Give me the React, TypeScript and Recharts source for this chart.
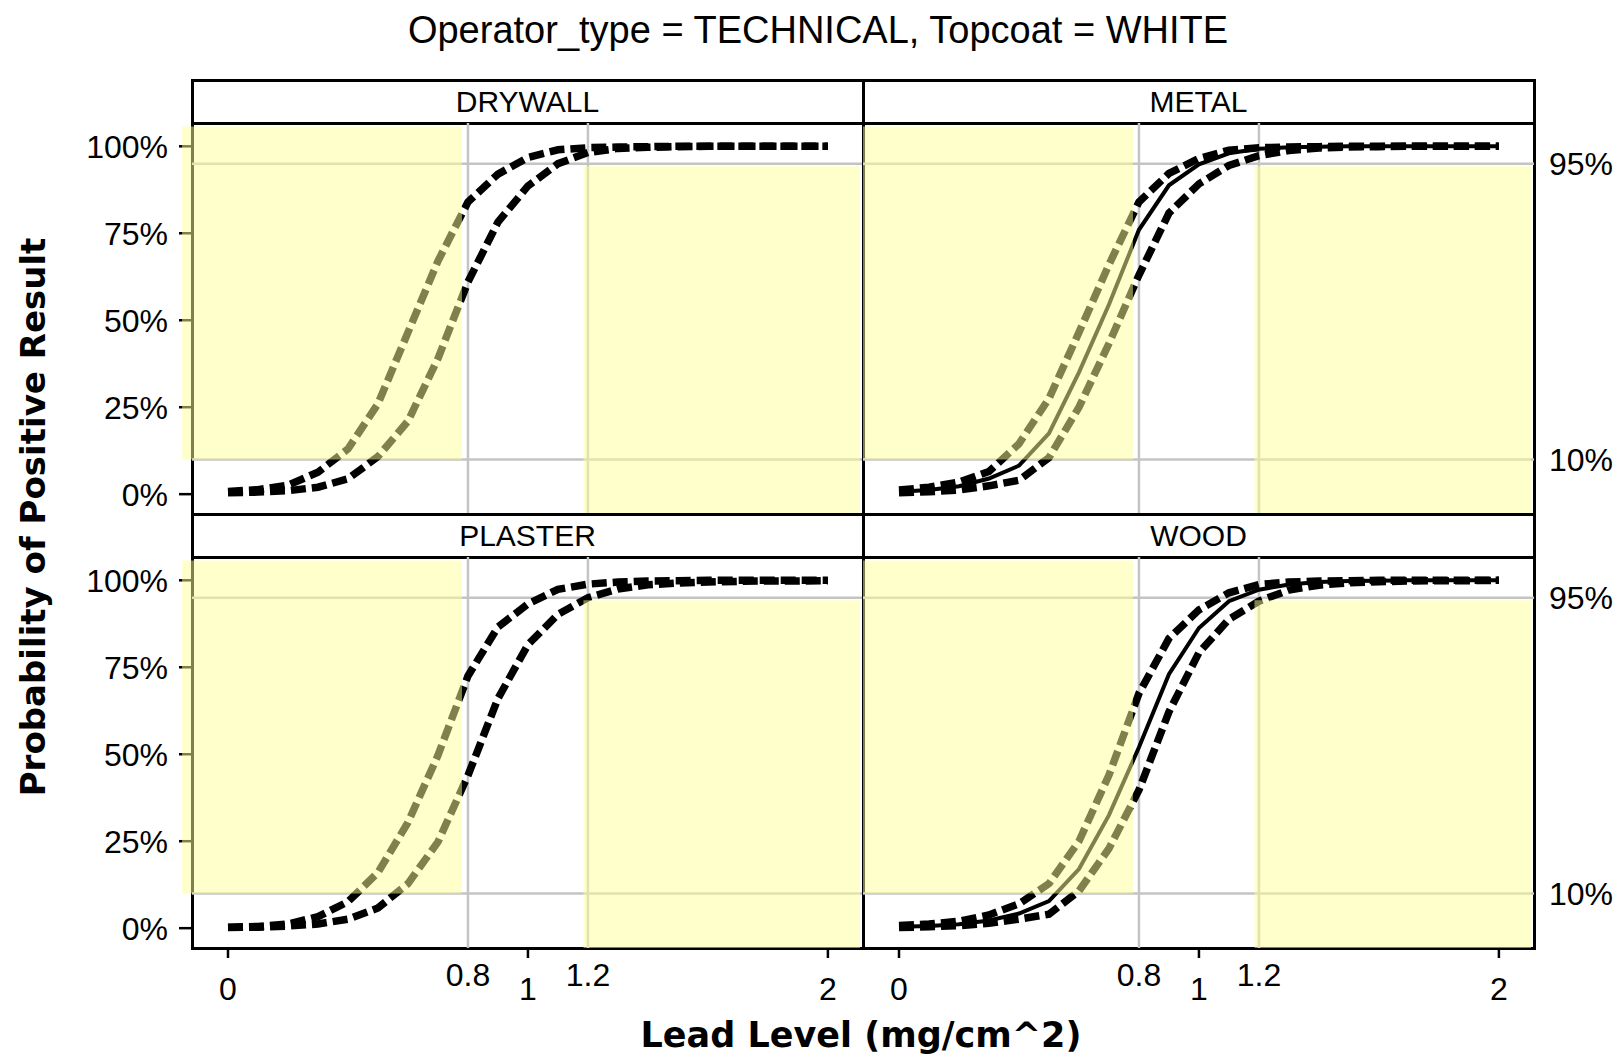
import { Line, LineChart, ReferenceArea, ReferenceLine, XAxis, YAxis } from 'recharts'

// lead level grid (mg/cm^2) shared by every curve
const leadLevels = [0, 0.1, 0.2, 0.3, 0.4, 0.5, 0.6, 0.7, 0.8, 0.9, 1.0, 1.1, 1.2, 1.3, 1.4, 1.5, 1.6, 1.7, 1.8, 1.9, 2.0]

// probability of positive result (%)
const drywallUpper = [0.8, 1.3, 2.6, 6.3, 13, 26, 46.5, 67, 84, 92, 96.8, 99, 99.6, 99.8, 99.9, 100, 100, 100, 100, 100, 100]
const drywallLower = [0.4, 0.6, 1.0, 2.0, 4.4, 10.8, 21, 39, 61, 78.2, 88.6, 95, 98.2, 99.4, 99.7, 99.9, 100, 100, 100, 100, 100]

const metalUpper = [1.2, 2.0, 3.5, 6.5, 14.5, 27.5, 46.5, 66, 84, 92.2, 96.5, 98.9, 99.6, 99.8, 99.9, 100, 100, 100, 100, 100, 100]
const metalFit = [0.7, 1.2, 2.3, 4.5, 8.2, 17.5, 35, 54.5, 76, 88.8, 94.8, 98, 99.3, 99.7, 99.9, 100, 100, 100, 100, 100, 100]
const metalLower = [0.4, 0.7, 1.2, 2.4, 4.0, 10.5, 25, 43.3, 63, 80.8, 89.2, 94.5, 97.3, 98.8, 99.5, 99.8, 99.9, 100, 100, 100, 100]

const plasterUpper = [0.3, 0.5, 1.2, 3.3, 7.6, 16, 30.4, 49.7, 72.5, 86.6, 93.2, 97.4, 98.9, 99.5, 99.8, 99.9, 100, 100, 100, 100, 100]
const plasterLower = [0.2, 0.3, 0.6, 1.2, 2.6, 5.8, 12.8, 24.8, 43.9, 66, 81.5, 90.2, 95, 97.5, 98.7, 99.2, 99.5, 99.7, 99.8, 99.8, 99.9]

const woodUpper = [0.8, 1.2, 2.0, 3.8, 7.0, 12.8, 25, 44, 67.5, 83.3, 91.5, 96.4, 98.8, 99.5, 99.8, 99.9, 100, 100, 100, 100, 100]
const woodFit = [0.4, 0.6, 1.1, 2.2, 4.2, 7.8, 17, 32.5, 52, 73, 86.3, 94, 97.3, 98.8, 99.5, 99.8, 99.9, 100, 100, 100, 100]
const woodLower = [0.2, 0.4, 0.7, 1.4, 2.6, 4.0, 10.7, 22.9, 39.7, 62.2, 79.2, 88.8, 94, 97.2, 98.6, 99.3, 99.6, 99.8, 99.9, 99.9, 100]

const yTicks = [0, 25, 50, 75, 100]
const xTicks = [0, 0.8, 1, 1.2, 2]
const leadThresholds = [0.8, 1.2]
const probThresholds = [10, 95]

const X_MIN = -0.12
const X_MAX = 2.117
const Y_MIN = -5.7
const Y_MAX = 106.7

// layout
const PLOT_W = 671
const PLOT_H = 391
const AXIS_W = 192
const RIGHT_PAD = 88
const XAXIS_H = 80
const HEADER_H = 43
const colLeft = [192, 863]
const headerTop = [80, 514]

const panels = [
  { name: 'DRYWALL', upper: drywallUpper, fit: null, lower: drywallLower },
  { name: 'METAL', upper: metalUpper, fit: metalFit, lower: metalLower },
  { name: 'PLASTER', upper: plasterUpper, fit: null, lower: plasterLower },
  { name: 'WOOD', upper: woodUpper, fit: woodFit, lower: woodLower },
]

function LeadTick(props: any) {
  const { x, y, payload } = props
  const v = payload.value
  const major = Number.isInteger(v)
  return (
    <g>
      {major && <line x1={x} x2={x} y1={y - 10} y2={y} stroke="#000" strokeWidth={2.5} />}
      <text x={x} y={y} dy={major ? 42 : 28} textAnchor="middle" fontSize={32} fill="#000">
        {String(v)}
      </text>
    </g>
  )
}

function Facet({ index }: { index: number }) {
  const p = panels[index]
  const col = index % 2
  const row = Math.floor(index / 2)
  const plotTop = headerTop[row] + HEADER_H
  const data = leadLevels.map((x, i) => ({ x, upper: p.upper[i], fit: p.fit ? p.fit[i] : null, lower: p.lower[i] }))
  const width = col === 0 ? AXIS_W + PLOT_W : PLOT_W + RIGHT_PAD
  const height = row === 1 ? PLOT_H + XAXIS_H : PLOT_H
  const left = col === 0 ? 0 : colLeft[1]
  const frame = { position: 'absolute' as const, left: colLeft[col] - 1.5, width: PLOT_W + 3, border: '3px solid #000', boxSizing: 'border-box' as const }

  return (
    <>
      <div style={{ ...frame, top: headerTop[row] - 1.5, height: HEADER_H + 3, display: 'flex', alignItems: 'center', justifyContent: 'center', fontSize: 30 }}>
        {p.name}
      </div>
      <div style={{ ...frame, top: plotTop - 1.5, height: PLOT_H + 3 }} />
      <div style={{ position: 'absolute', left, top: plotTop }}>
        <LineChart width={width} height={height} data={data} margin={{ top: 0, right: col === 1 ? RIGHT_PAD : 0, bottom: 0, left: 0 }}>
          <XAxis
            type="number"
            dataKey="x"
            domain={[X_MIN, X_MAX]}
            allowDataOverflow
            ticks={xTicks}
            hide={row === 0}
            height={XAXIS_H}
            axisLine={false}
            tickLine={false}
            tickSize={10}
            tickMargin={0}
            tick={<LeadTick />}
            interval={0}
          />
          <YAxis
            type="number"
            domain={[Y_MIN, Y_MAX]}
            allowDataOverflow
            ticks={yTicks}
            hide={col === 1}
            width={AXIS_W}
            axisLine={false}
            tickSize={13}
            tickMargin={11}
            tickLine={{ stroke: '#000', strokeWidth: 2.5 }}
            tick={{ fill: '#000', fontSize: 32 }}
            tickFormatter={(v) => `${v}%`}
            interval={0}
          />
          {leadThresholds.map((t) => (
            <ReferenceLine key={`x${t}`} x={t} stroke="#c4c4c4" strokeWidth={2.5} zIndex={50} />
          ))}
          {probThresholds.map((t) => (
            <ReferenceLine
              key={`y${t}`}
              y={t}
              stroke="#c4c4c4"
              strokeWidth={2.5}
              zIndex={50}
              label={col === 1 ? { value: `${t}%`, position: 'right', offset: 15, fill: '#000', fontSize: 32 } : undefined}
            />
          ))}
          <Line type="linear" dataKey="upper" stroke="#000" strokeWidth={7.5} strokeDasharray="15 6" dot={false} isAnimationActive={false} />
          <Line type="linear" dataKey="lower" stroke="#000" strokeWidth={7.5} strokeDasharray="15 6" dot={false} isAnimationActive={false} />
          {p.fit && <Line type="linear" dataKey="fit" stroke="#000" strokeWidth={4} dot={false} isAnimationActive={false} />}
          <ReferenceArea
            x1={col === 0 ? -0.153 : X_MIN}
            x2={0.78}
            y1={10}
            y2={105.7}
            fill="#ffff99"
            fillOpacity={0.5}
            stroke="none"
            ifOverflow="visible"
            zIndex={600}
          />
          <ReferenceArea x1={1.185} x2={X_MAX - 0.01} y1={Y_MIN} y2={94.3} fill="#ffff99" fillOpacity={0.5} stroke="none" ifOverflow="visible" zIndex={600} />
        </LineChart>
      </div>
    </>
  )
}

export default function App() {
  return (
    <div style={{ position: 'absolute', left: 0, top: 0, width: 1623, height: 1057, background: '#fff', fontFamily: '"Liberation Sans", Arial, sans-serif', color: '#000' }}>
      <svg width={1623} height={1057} style={{ position: 'absolute', left: 0, top: 0 }}>
        <text x={818} y={42.5} textAnchor="middle" fontSize={38} fill="#000">
          Operator_type = TECHNICAL, Topcoat = WHITE
        </text>
        <text x={861} y={1047} textAnchor="middle" fontSize={35} fontWeight="bold" fontFamily='"DejaVu Sans", sans-serif' fill="#000">
          Lead Level (mg/cm^2)
        </text>
        <text
          x={45}
          y={517}
          textAnchor="middle"
          fontSize={34}
          fontWeight="bold"
          fontFamily='"DejaVu Sans", sans-serif'
          fill="#000"
          transform="rotate(-90 45 517)"
        >
          Probability of Positive Result
        </text>
      </svg>
      {panels.map((_, i) => (
        <Facet key={i} index={i} />
      ))}
    </div>
  )
}
